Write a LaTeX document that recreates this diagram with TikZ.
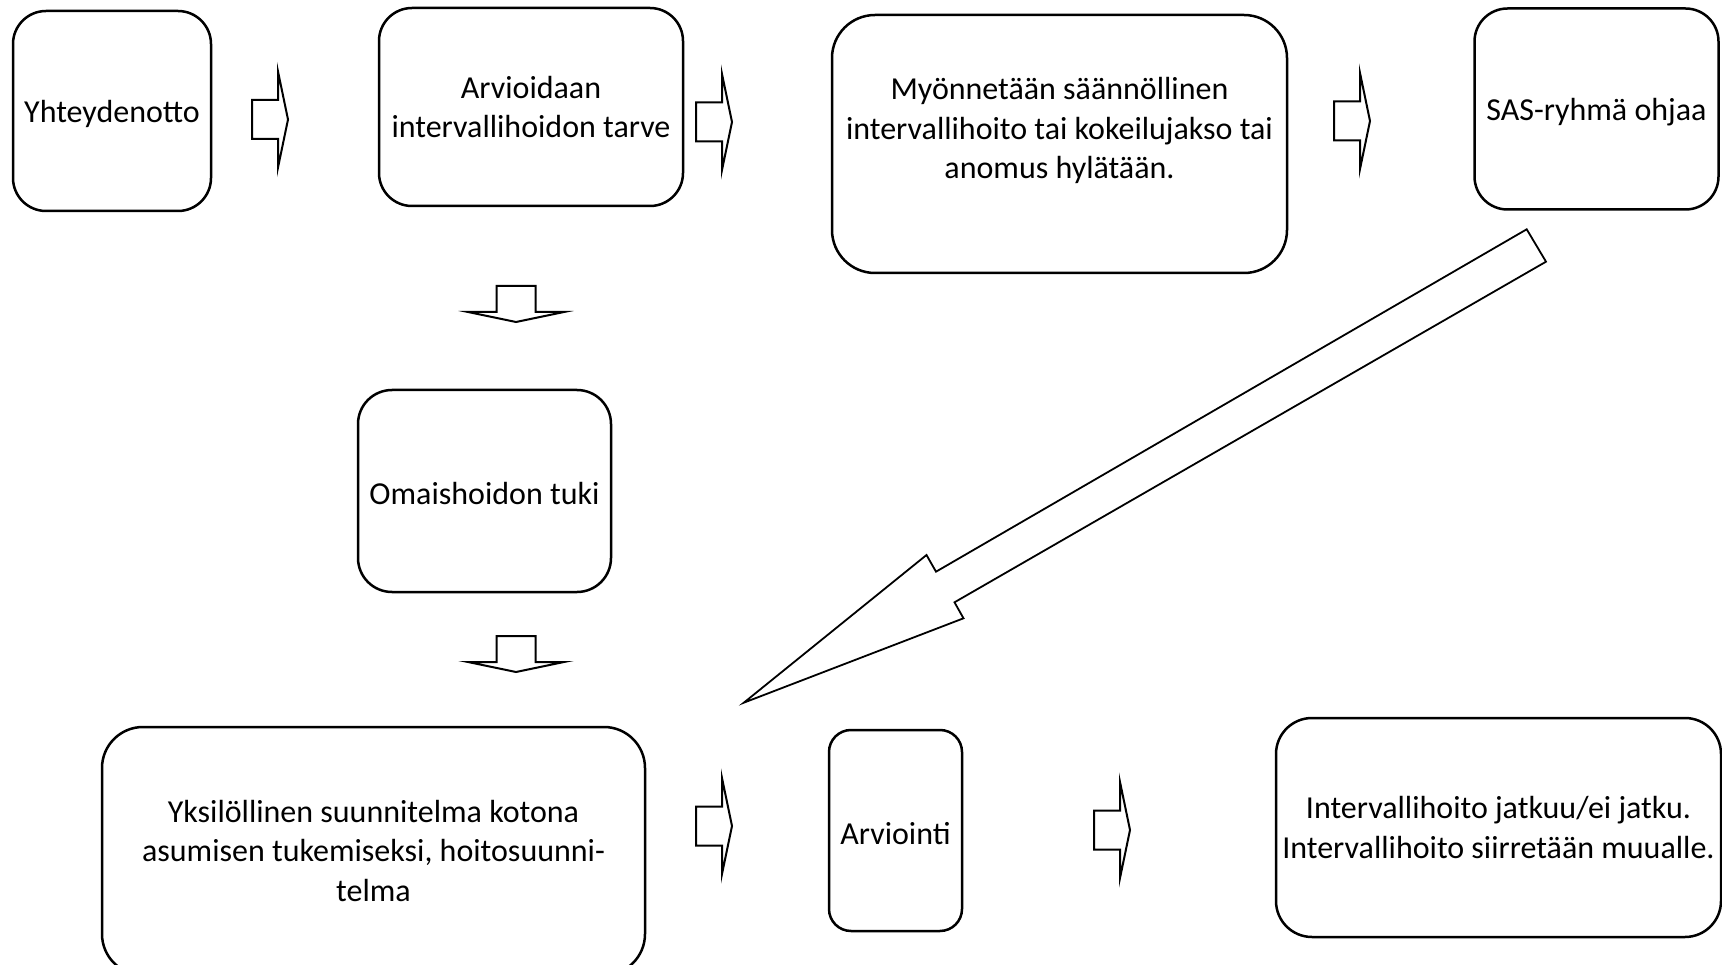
\documentclass[tikz,border=0pt]{standalone}
\usepackage{fontspec}
\setmainfont{Carlito}

\tikzset{
  txt/.style={align=center, inner sep=0pt, font={\fontsize{32}{39.5}\selectfont},
    execute at begin node={\rule{0pt}{0.87em}}},
  box/.style={txt, draw, line width=2.5pt},
  blockarrow/.pic={
    \draw[line width=2pt, fill=white] (0,-19.5) -- (26,-19.5) -- (26,-48) -- (36,0)
      -- (26,48) -- (26,19.5) -- (0,19.5) -- cycle;}
}

\begin{document}
\begin{tikzpicture}[x=1pt,y=-1pt]
  \useasboundingbox (0,0) rectangle (1722,965);

  \node[box, minimum width=198pt, minimum height=200pt, rounded corners=33pt] (yht) at (112,111) {Yhteydenotto};
  \node[box, minimum width=304pt, minimum height=198pt, rounded corners=33pt] (arv) at (531,107) {Arvioidaan\\intervallihoidon tarve};
  \node[box, minimum width=455pt, minimum height=258pt, rounded corners=43pt] (myo) at (1059.5,144) {};
  \node[txt] (myotxt) at (1059.5,130.5)
    {Myönnetään säännöllinen\\intervallihoito tai kokeilujakso tai\\anomus hylätään.};
  \node[box, minimum width=244pt, minimum height=201pt, rounded corners=33pt] (sas) at (1596.5,109) {SAS-ryhmä ohjaa};
  \node[box, minimum width=253pt, minimum height=202pt, rounded corners=34pt] (oma) at (484.5,491) {Omaishoidon tuki};
  \node[box, minimum width=543pt, minimum height=248pt, rounded corners=41pt] (yks) at (373.5,851)
    {Yksilöllinen suunnitelma kotona\\asumisen tukemiseksi, hoitosuunni-\\telma};
  \node[box, minimum width=133pt, minimum height=201pt, rounded corners=22pt] (arvi) at (895.5,830.5) {Arviointi};
  \node[box, minimum width=445pt, minimum height=219pt, rounded corners=36pt] (int) at (1498.5,827.5)
    {Intervallihoito jatkuu/ei jatku.\\Intervallihoito siirretään muualle.};

  \foreach \x/\y in {252/119.5, 696/122, 1334/121, 696/826, 1094/830}
    \pic at (\x,\y) {blockarrow};
  \foreach \y in {286, 636}
    \pic[rotate=-90] at (516,\y) {blockarrow};

  \draw[line width=1.8pt, fill=white] (1526.7,229.3) -- (936,571.7) -- (926.5,555) -- (743.8,702.7)
    -- (963.5,618.3) -- (954.5,602.3) -- (1546,261.7) -- cycle;

\end{tikzpicture}
\end{document}
